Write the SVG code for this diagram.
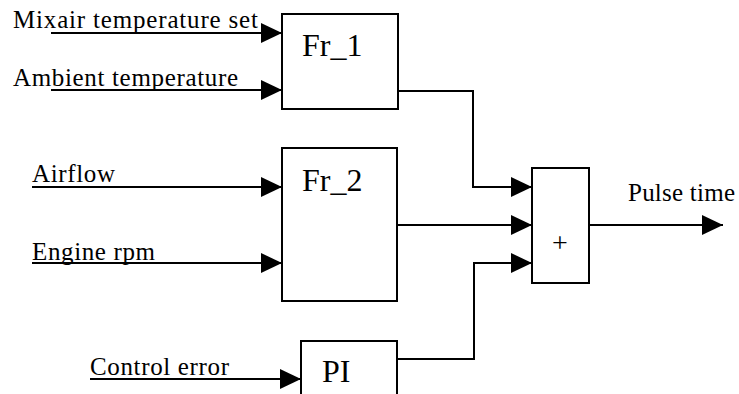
<svg xmlns="http://www.w3.org/2000/svg" width="739" height="394" viewBox="0 0 739 394">
<style>
  .box { fill: #fff; stroke: #000; stroke-width: 2; }
  .wire { fill: none; stroke: #000; stroke-width: 2; marker-end: url(#arr); }
  text { font-family: "Liberation Serif", "Times New Roman", serif; fill: #000; }
</style>
<defs>
  <marker id="arr" markerUnits="userSpaceOnUse" markerWidth="21" markerHeight="20" refX="21" refY="10" orient="auto">
    <path d="M0,0 L21,10 L0,20 Z" fill="#000"/>
  </marker>
</defs>
<rect width="739" height="394" fill="#fff"/>

<g id="labels" font-size="25">
  <text x="13" y="28" textLength="245" lengthAdjust="spacing">Mixair temperature set</text>
  <text x="13" y="86" textLength="225" lengthAdjust="spacing">Ambient temperature</text>
  <text x="32" y="182" textLength="83" lengthAdjust="spacing">Airflow</text>
  <text x="32" y="260" textLength="123" lengthAdjust="spacing">Engine rpm</text>
  <text x="90" y="375" textLength="139" lengthAdjust="spacing">Control error</text>
  <text x="628" y="201" textLength="107" lengthAdjust="spacing">Pulse time</text>
</g>

<g id="connectors">
  <path class="wire" d="M51,33 H282"/>
  <path class="wire" d="M51,90 H282"/>
  <path class="wire" d="M32,187 H282"/>
  <path class="wire" d="M32,263 H282"/>
  <path class="wire" d="M90,379 H301"/>
  <path class="wire" d="M398,91 H473 V187 H532"/>
  <path class="wire" d="M397,225 H532"/>
  <path class="wire" d="M397,359 H474 V263 H532"/>
  <path class="wire" d="M589,225 H723"/>
</g>

<g id="fr1">
  <rect class="box" x="282" y="14" width="116" height="95"/>
  <text x="302" y="56" font-size="32">Fr_1</text>
</g>
<g id="fr2">
  <rect class="box" x="282" y="148" width="115" height="153"/>
  <text x="302" y="191" font-size="32">Fr_2</text>
</g>
<g id="pi">
  <rect class="box" x="301" y="341" width="96" height="70"/>
  <text x="322" y="382" font-size="32">PI</text>
</g>
<g id="sum">
  <rect class="box" x="532" y="168" width="57" height="115"/>
  <text x="560" y="252" text-anchor="middle" font-size="28">+</text>
</g>
</svg>
